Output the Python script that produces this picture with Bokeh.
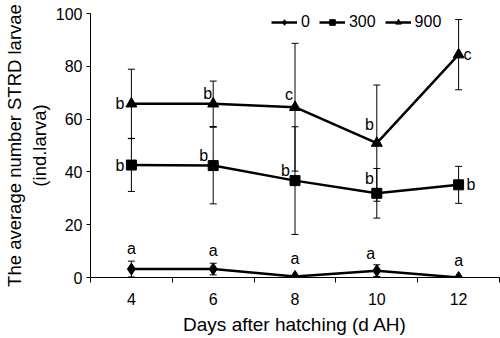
from bokeh.plotting import figure
from bokeh.models import (ColumnDataSource, Whisker, TeeHead, FixedTicker, Legend, LegendItem,
                          Range1d)
from bokeh.core.properties import value
from bokeh.embed import file_html
from bokeh.resources import INLINE

# ---- data ----
days = [4, 6, 8, 10, 12]
series_names = ["0", "300", "900"]
mean_0 = [3.2, 3.2, 0.4, 2.6, 0.0]
err_0 = [3.0, 2.2, 0.0, 2.2, 0.0]
mean_300 = [42.6, 42.4, 36.7, 31.9, 35.1]
err_300 = [10.0, 14.5, 20.4, 9.4, 7.0]
mean_900 = [65.8, 65.8, 64.5, 50.9, 84.4]
err_900 = [13.1, 8.6, 24.2, 22.0, 13.3]
letters_0 = ["a", "a", "a", "a", "a"]
letters_300 = ["b", "b", "b", "b", "b"]
letters_900 = ["b", "b", "c", "b", "c"]
y_ticks = [0, 20, 40, 60, 80, 100]
x_ticks = [4, 6, 8, 10, 12]
x_minor = [3, 5, 7, 9, 11, 13]

FONT = "Liberation Sans"

p = figure(width=500, height=338, output_backend="svg", toolbar_location=None,
           x_range=Range1d(3, 13), y_range=Range1d(0, 100),
           min_border_left=90, min_border_right=1, min_border_top=13, min_border_bottom=61)
p.outline_line_color = None
p.xgrid.grid_line_color = None
p.ygrid.grid_line_color = None
p.background_fill_color = "white"
p.border_fill_color = "white"

# axes
xa = p.xaxis[0]
xa.ticker = FixedTicker(ticks=x_ticks, minor_ticks=x_minor)
xa.major_tick_out = 0
xa.major_tick_in = 0
xa.minor_tick_out = 5
xa.minor_tick_in = 0
xa.minor_tick_line_color = "black"
xa.axis_line_color = "black"
xa.major_label_standoff = 10
xa.major_label_text_font = FONT
xa.major_label_text_font_size = "16px"
xa.major_label_text_color = "black"
xa.axis_label = "Days after hatching (d AH)"
xa.axis_label_text_font = FONT
xa.axis_label_text_font_size = "19px"
xa.axis_label_text_font_style = "normal"
xa.axis_label_text_color = "black"
xa.axis_label_standoff = 6

ya = p.yaxis[0]
ya.ticker = FixedTicker(ticks=y_ticks)
ya.major_tick_out = 4
ya.major_tick_in = 0
ya.minor_tick_line_color = None
ya.axis_line_color = "black"
ya.major_tick_line_color = "black"
ya.major_label_standoff = 4
ya.major_label_text_font = FONT
ya.major_label_text_font_size = "16px"
ya.major_label_text_color = "black"
ya.axis_label = "The average number STRD larvae\n(ind.larva)"
ya.axis_label_text_font = FONT
ya.axis_label_text_font_size = "18.5px"
ya.axis_label_text_font_style = "normal"
ya.axis_label_text_color = "black"
ya.axis_label_standoff = 3

series = [
    (mean_0, err_0, letters_0, "diamond", 12),
    (mean_300, err_300, letters_300, "square", 10),
    (mean_900, err_900, letters_900, "triangle", 11),
]

# letter placement styles (per point): x offset, y offset, align, baseline
label_styles = {
    "0": ([0, 0, 0, -6, 0], [-12, -10, -9, -9, -9], ["center"] * 5, ["bottom"] * 5),
    "300": ([-7, -5, -5, -3, 8], [0, -2, -2, -6, 0],
            ["right", "right", "right", "right", "left"],
            ["middle", "bottom", "bottom", "bottom", "middle"]),
    "900": ([-7, -1, -2, -3, 5], [0, -2, -4, -10, 0],
            ["right", "right", "right", "right", "left"],
            ["middle", "bottom", "bottom", "bottom", "middle"]),
}

legend_items = []
for name, (mean, err, letters, marker, msize) in zip(series_names, series):
    up = [m + e for m, e in zip(mean, err)]
    lo = [m - e for m, e in zip(mean, err)]
    xo, yo, al, bl = label_styles[name]
    src = ColumnDataSource(dict(x=days, y=mean, upper=up, lower=lo, txt=letters,
                                xo=xo, yo=yo, al=al, bl=bl))
    w = Whisker(base="x", upper="upper", lower="lower", source=src, line_color="black",
                line_width=1,
                upper_head=TeeHead(size=7, line_color="black", line_width=1),
                lower_head=TeeHead(size=7, line_color="black", line_width=1))
    p.add_layout(w)
    ln = p.line("x", "y", source=src, line_color="black", line_width=2.5)
    sc = p.scatter("x", "y", source=src, marker=marker, size=msize,
                   fill_color="black", line_color="black")
    p.text("x", "y", text="txt", source=src, x_offset="xo", y_offset="yo",
           text_align="al", text_baseline="bl", text_font=value(FONT),
           text_font_size="16px", text_color="black")
    legend_items.append(LegendItem(label=name, renderers=[ln, sc]))

legend = Legend(items=legend_items, orientation="horizontal", location=(181, 246),
                border_line_color=None, background_fill_alpha=0,
                padding=0, margin=0, spacing=9, glyph_width=26, glyph_height=14,
                label_standoff=4, label_width=0,
                label_text_font=FONT, label_text_font_size="16px", label_text_color="black")
p.add_layout(legend)

open("out.html", "w").write(file_html(p, INLINE))
